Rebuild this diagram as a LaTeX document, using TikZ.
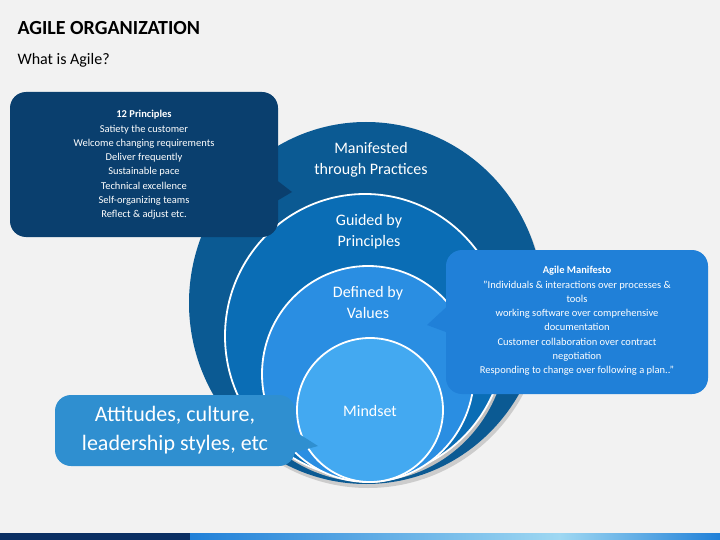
\documentclass[tikz,border=0pt]{standalone}
\usepackage{fontspec}
\setmainfont{Carlito}
\begin{document}
\begin{tikzpicture}[x=1pt,y=-1pt,
  ring/.style={draw=white,line width=1.8pt},
  wt/.style={text=white,align=center,font=#1},
  box/.style={rounded corners=16pt}]
\definecolor{bg}{HTML}{F2F2F2}
\definecolor{c1}{HTML}{0B5A93}
\definecolor{c2}{HTML}{0A6DB5}
\definecolor{c3}{HTML}{2A8EE2}
\definecolor{c4}{HTML}{43A9F1}
\definecolor{b1}{HTML}{0A3F6E}
\definecolor{b2}{HTML}{2080D8}
\definecolor{b3}{HTML}{2F8FD0}
\definecolor{navy}{HTML}{0B2F63}
\definecolor{cyan}{HTML}{9FD8F2}
\fill[bg] (0,0) rectangle (720,540);
\useasboundingbox (0,0) rectangle (720,540);
\node[anchor=west,font=\bfseries\fontsize{20}{24}\selectfont] (title) at (14,28) {AGILE ORGANIZATION};
\node[anchor=west,font=\fontsize{16}{20}\selectfont] (sub) at (14,60) {What is Agile?};
% rings
\fill[gray!40] (368,307) ellipse [x radius=177,y radius=181];
\fill[c1] (366,303) ellipse [x radius=177,y radius=181];
\fill[gray!50] (367,340) ellipse [x radius=140,y radius=142];
\fill[c2,ring] (365,336) ellipse [x radius=140,y radius=142];
\fill[c3,ring] (368,374) ellipse [x radius=106,y radius=108];
\fill[c4,ring] (370,410) ellipse [x radius=73,y radius=72];
\node[wt=\fontsize{16}{21}\selectfont] (man) at (371,160) {Manifested\\through Practices};
\node[wt=\fontsize{16}{21}\selectfont] (gui) at (369,232) {Guided by\\Principles};
\node[wt=\fontsize{16}{21}\selectfont] (def) at (368,303) {Defined by\\Values};
\node[wt=\fontsize{16}{20}\selectfont] (mind) at (370,411) {Mindset};
% callouts
\fill[b1,box] (10,92) rectangle (278,237);
\fill[b1] (270,175) -- (292,192) -- (270,205) -- cycle;
\node[wt=\fontsize{10.5}{14.3}\selectfont] (p) at (144,165) {\textbf{12 Principles}\\Satiety the customer\\Welcome changing requirements\\Deliver frequently\\Sustainable pace\\Technical excellence\\Self-organizing teams\\Reflect \& adjust etc.};
\fill[b2,box] (446,250) rectangle (708,394);
\fill[b2] (454,300) -- (427,325) -- (454,335) -- cycle;
\node[wt=\fontsize{10.5}{14.3}\selectfont] (m) at (577,321) {\textbf{Agile Manifesto}\\"Individuals \& interactions over processes \&\\tools\\working software over comprehensive\\documentation\\Customer collaboration over contract\\negotiation\\Responding to change over following a plan.."};
\fill[b3,box] (55,395) rectangle (295,466);
\fill[b3] (285,425) -- (318,446) -- (285,455) -- cycle;
\node[wt=\fontsize{22}{29}\selectfont] (a) at (175,430) {Attitudes, culture,\\leadership styles, etc};
% bottom bar
\fill[navy] (0,533) rectangle (190,540);
\shade[left color=b2,right color=cyan] (190,533) rectangle (560,540);
\shade[left color=cyan,right color=b2] (560,533) rectangle (720,540);
\end{tikzpicture}
\end{document}
